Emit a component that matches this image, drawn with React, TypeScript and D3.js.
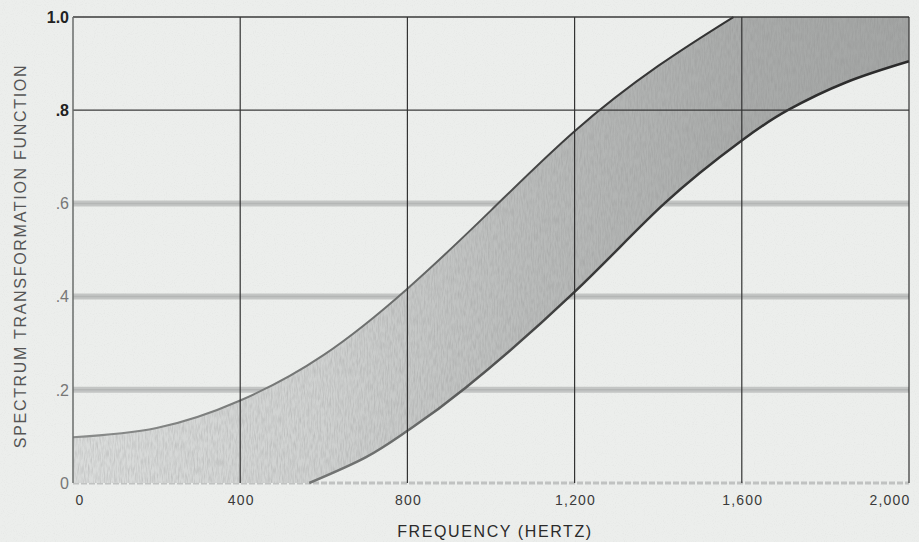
import React from "react";
import * as d3 from "d3";

const freqTicks = [0, 400, 800, 1200, 1600, 2000];
const freqLabels = ["0", "400", "800", "1,200", "1,600", "2,000"];
const valueTicks = [0, 0.2, 0.4, 0.6, 0.8, 1.0];
const valueLabels = ["0", ".2", ".4", ".6", ".8", "1.0"];

// upper edge of the band (reaches the top of the frame near 1,580 Hz)
const upperFreq = [0, 200, 400, 600, 800, 1000, 1200, 1400, 1580];
const upperValue = [0.098, 0.118, 0.177, 0.275, 0.417, 0.585, 0.755, 0.895, 1.0];
// lower edge of the band
const lowerFreq = [565, 700, 800, 940, 1200, 1415, 1600, 1710, 1850, 2000];
const lowerValue = [0, 0.055, 0.112, 0.205, 0.41, 0.6, 0.735, 0.8, 0.86, 0.905];

const W = 919;
const H = 542;
const FONT = "Liberation Sans, Arial, Helvetica, sans-serif";

export default function App() {
  const x = d3.scaleLinear().domain([0, 2000]).range([73, 909]);
  const y = d3.scaleLinear().domain([0, 1]).range([483, 17]);

  const upper: [number, number][] = upperFreq.map((f, i) => [f, upperValue[i]]);
  const lower: [number, number][] = lowerFreq.map((f, i) => [f, lowerValue[i]]);

  const line = d3
    .line<[number, number]>()
    .x((d) => x(d[0]))
    .y((d) => y(d[1]))
    .curve(d3.curveNatural);

  const upperPath = line(upper) || "";
  const lowerPath = line(lower) || "";
  const lowerRev = (line([...lower].reverse()) || "").replace(/^M/, "L");
  const bandPath =
    upperPath + `L${x(2000)},${y(1)}` + lowerRev + `L${x(0)},${y(0)}Z`;

  const gridMajor = [0.8, 1.0];
  const gridFaint = [0.2, 0.4, 0.6];

  return (
    <svg
      width={W}
      height={H}
      style={{ position: "absolute", left: 0, top: 0, background: "#eceeec" }}
    >
      <defs>
        <linearGradient id="bandFill" gradientUnits="userSpaceOnUse" x1={x(0)} y1="0" x2={x(2000)} y2="0">
          <stop offset="0" stopColor="#dadcdb" />
          <stop offset="0.3" stopColor="#cfd1d0" />
          <stop offset="0.55" stopColor="#b9bbba" />
          <stop offset="0.8" stopColor="#a9abaa" />
          <stop offset="1" stopColor="#a3a5a4" />
        </linearGradient>
        <linearGradient id="edgeStroke" gradientUnits="userSpaceOnUse" x1={x(0)} y1="0" x2={x(2000)} y2="0">
          <stop offset="0" stopColor="#8a8c8b" />
          <stop offset="0.4" stopColor="#6a6c6b" />
          <stop offset="0.6" stopColor="#3a3a3a" />
          <stop offset="1" stopColor="#2a2a2a" />
        </linearGradient>
        <filter id="grain" x="0" y="0" width="100%" height="100%">
          <feTurbulence type="fractalNoise" baseFrequency="0.7 0.12" numOctaves="2" seed="4" />
          <feColorMatrix
            type="matrix"
            values="0 0 0 0 0.25  0 0 0 0 0.25  0 0 0 0 0.25  1.6 0 0 0 -0.6"
          />
        </filter>
        <filter id="paper" x="0" y="0" width="100%" height="100%">
          <feTurbulence type="fractalNoise" baseFrequency="0.9" numOctaves="1" seed="9" />
          <feColorMatrix
            type="matrix"
            values="0 0 0 0 0.4  0 0 0 0 0.4  0 0 0 0 0.4  1.2 0 0 0 -0.62"
          />
        </filter>
        <clipPath id="bandClip">
          <path d={bandPath} />
        </clipPath>
      </defs>

      <rect x={0} y={0} width={W} height={H} fill="#eceeec" />
      <rect x={0} y={0} width={W} height={H} filter="url(#paper)" opacity={0.25} />

      {/* faint horizontal grid */}
      {gridFaint.map((v) => (
        <g key={"f" + v}>
          <line x1={x(0)} x2={x(2000)} y1={y(v)} y2={y(v)} stroke="#c3c5c4" strokeWidth={6} />
          <line x1={x(0)} x2={x(2000)} y1={y(v)} y2={y(v)} stroke="#b4b6b5" strokeWidth={1.5} />
        </g>
      ))}
      {/* baseline */}
      <line x1={x(0)} x2={x(2000)} y1={y(0)} y2={y(0)} stroke="#c0c2c1" strokeWidth={3} strokeDasharray="6 2" />

      {/* band */}
      <path d={bandPath} fill="url(#bandFill)" />
      <g clipPath="url(#bandClip)">
        <rect x={x(0)} y={y(1)} width={x(2000) - x(0)} height={y(0) - y(1)} filter="url(#grain)" opacity={0.35} />
      </g>
      <path d={upperPath} fill="none" stroke="url(#edgeStroke)" strokeWidth={2} />
      <path d={lowerPath} fill="none" stroke="url(#edgeStroke)" strokeWidth={2.5} />

      {/* major horizontal grid */}
      {gridMajor.map((v) => (
        <line key={"m" + v} x1={x(0)} x2={x(2000)} y1={y(v)} y2={y(v)} stroke="#3a3a3a" strokeWidth={1.3} />
      ))}
      {/* vertical grid */}
      {freqTicks.map((f) => (
        <line
          key={"v" + f}
          x1={x(f)}
          x2={x(f)}
          y1={y(1)}
          y2={y(0)}
          stroke={f === 0 ? "#6a6c6b" : "#333"}
          strokeWidth={f === 0 ? 1.5 : 1.2}
        />
      ))}

      {/* tick labels */}
      {valueTicks.map((v, i) => (
        <text
          key={"yl" + v}
          x={69}
          y={y(v)}
          dy="0.36em"
          textAnchor="end"
          fontFamily={FONT}
          fontSize={16}
          fontWeight={v >= 0.8 ? 700 : 400}
          fill={v >= 0.8 ? "#222" : "#777"}
        >
          {valueLabels[i]}
        </text>
      ))}
      {freqTicks.map((f, i) => (
        <text
          key={"xl" + f}
          x={f === 2000 ? x(f) - 19 : x(f) + (f === 0 ? 7 : 1)}
          y={505}
          textAnchor="middle"
          fontFamily={FONT}
          fontSize={14}
          letterSpacing={1.2}
          fill="#3a3a3a"
        >
          {freqLabels[i]}
        </text>
      ))}

      <text
        x={495}
        y={537}
        textAnchor="middle"
        fontFamily={FONT}
        fontSize={16}
        letterSpacing={1.6}
        fill="#2a2a2a"
      >
        FREQUENCY (HERTZ)
      </text>
      <text
        transform={`translate(20, ${256}) rotate(-90)`}
        dy="0.36em"
        textAnchor="middle"
        fontFamily={FONT}
        fontSize={16}
        letterSpacing={1.7}
        fill="#555"
      >
        SPECTRUM TRANSFORMATION FUNCTION
      </text>
    </svg>
  );
}
